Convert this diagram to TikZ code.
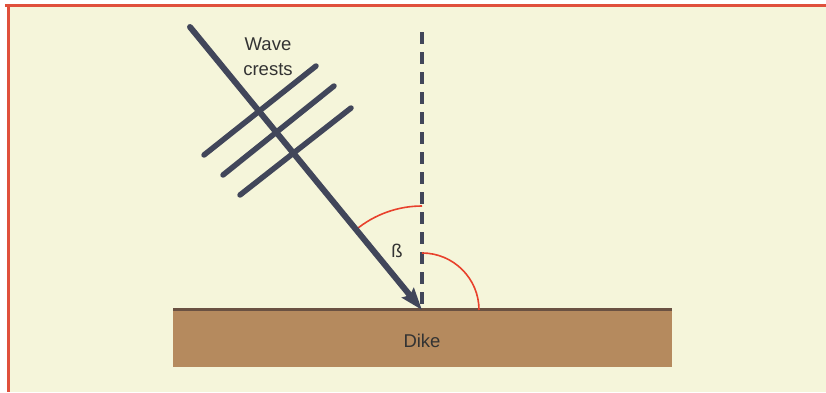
\documentclass[tikz,border=0pt]{standalone}
\usepackage{fontspec}
\setmainfont{Liberation Sans}
\usetikzlibrary{arrows.meta}
\definecolor{cream}{HTML}{F5F5DA}
\definecolor{frame}{HTML}{E0503C}
\definecolor{slate}{HTML}{41465A}
\definecolor{dikefill}{HTML}{B58A5E}
\definecolor{diketop}{HTML}{6A5142}
\definecolor{arcred}{HTML}{E8412C}
\definecolor{txt}{HTML}{333333}
\tikzset{
  crest/.style={draw=slate, line width=5.5pt, line cap=round},
  mainray/.style={draw=slate, line width=6pt, line cap=round, -{Stealth[length=22pt,width=15pt,inset=3pt]}},
  normal/.style={draw=slate, line width=4pt, dash pattern=on 12pt off 8pt},
  anglearc/.style={draw=arcred, line width=1.6pt},
  lbl/.style={font=\fontsize{18.5}{22}\selectfont, text=txt, inner sep=0pt},
}
\begin{document}
\begin{tikzpicture}[x=1pt,y=1pt]
\useasboundingbox (0,0) rectangle (826,392);
\fill[white] (0,0) rectangle (826,392);
\fill[cream] (8,0) rectangle (826,386);
\draw[frame, line width=3pt] (5,386) -- (826,386);
\draw[frame, line width=3pt] (8,387.5) -- (8,0);

% dike
\node[fill=dikefill, minimum width=499pt, minimum height=57pt, inner sep=0pt, anchor=south west] (dike) at (173,25) {};
\draw[diketop, line width=3.5pt] (dike.north west) -- (dike.north east);
\node[lbl, anchor=base] (dikelbl) at (422,45) {Dike};

% named points
\coordinate (tip) at (422,82);
\coordinate (start) at (190,365);
\coordinate (ntop) at (422,360);

% normal (dashed)
\draw[normal] (ntop) -- (tip);

% angle arcs
\draw[anglearc] (422,186) arc[start angle=90, end angle=129.5, radius=104];
\draw[anglearc] (479,82) arc[start angle=0, end angle=90, radius=57];
\node[lbl, anchor=base] (beta) at (397,135) {ß};

% wave crests
\coordinate (c1a) at (204,237); \coordinate (c1b) at (316,326);
\coordinate (c2a) at (223,217); \coordinate (c2b) at (334,306);
\coordinate (c3a) at (240,197); \coordinate (c3b) at (351,284);
\draw[crest] (c1a) -- (c1b);
\draw[crest] (c2a) -- (c2b);
\draw[crest] (c3a) -- (c3b);

% wave ray
\draw[mainray] (start) -- (tip);

\node[lbl, anchor=base] (wave1) at (268,342) {Wave};
\node[lbl, anchor=base] (wave2) at (268,317) {crests};
\end{tikzpicture}
\end{document}
